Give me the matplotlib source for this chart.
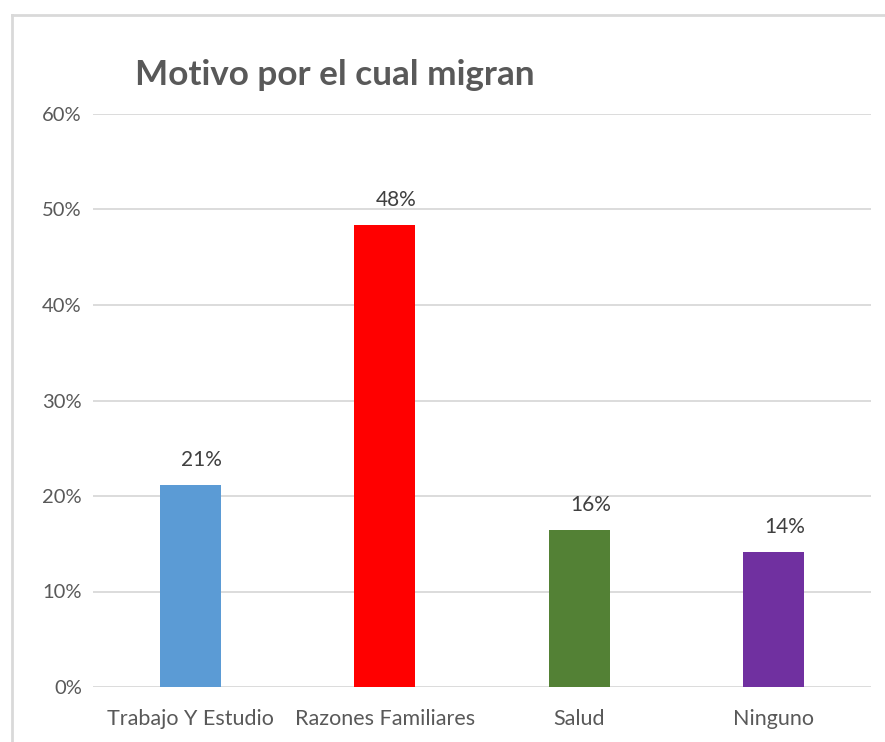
import matplotlib.pyplot as plt
from matplotlib.ticker import PercentFormatter

categorias = ["Trabajo Y Estudio", "Razones Familiares", "Salud", "Ninguno"]
valores = [21.1, 48.4, 16.4, 14.1]
etiquetas = ["21%", "48%", "16%", "14%"]
colores = ["#5b9bd5", "#ff0000", "#538135", "#7030a0"]

plt.rcParams['font.family'] = ['Lato', 'DejaVu Sans']
gris = "#595959"

fig = plt.figure(figsize=(8.85, 7.42), dpi=100)
ax = fig.add_axes([93 / 885, 1 - 687 / 742, 778 / 885, 573 / 742])

x = [i + 0.5 for i in range(len(categorias))]
ax.bar(x, valores, width=0.314, color=colores, zorder=3)
for xi, v, t in zip(x, valores, etiquetas):
    ax.annotate(t, (xi, v), xytext=(8, 11), textcoords="offset points",
                ha="center", va="bottom", fontsize=15, color="#404040")

ax.set_xlim(0, 4)
ax.set_ylim(0, 60)
ax.set_yticks(range(0, 61, 10))
ax.yaxis.set_major_formatter(PercentFormatter(decimals=0))
ax.set_xticks(x)
ax.set_xticklabels(categorias)
ax.tick_params(axis="both", length=0, colors=gris)
ax.tick_params(axis="x", pad=16, labelsize=15.5)
ax.tick_params(axis="y", pad=8, labelsize=14.5)
ax.grid(axis="y", color="#d9d9d9", linewidth=1.3, zorder=0)
for s in ax.spines.values():
    s.set_visible(False)

fig.text(135 / 885, 1 - 75 / 742, "Motivo por el cual migran", fontsize=25.3,
         fontweight="bold", color=gris, ha="left", va="center")

# marco del grafico
fig.add_artist(plt.Line2D([11.5 / 885, 11.5 / 885], [1 - 15 / 742, 0],
                          color="#d9d9d9", linewidth=2))
fig.add_artist(plt.Line2D([11.5 / 885, 1], [1 - 15 / 742, 1 - 15 / 742],
                          color="#d9d9d9", linewidth=2))

fig.savefig("out.png", dpi=100)
